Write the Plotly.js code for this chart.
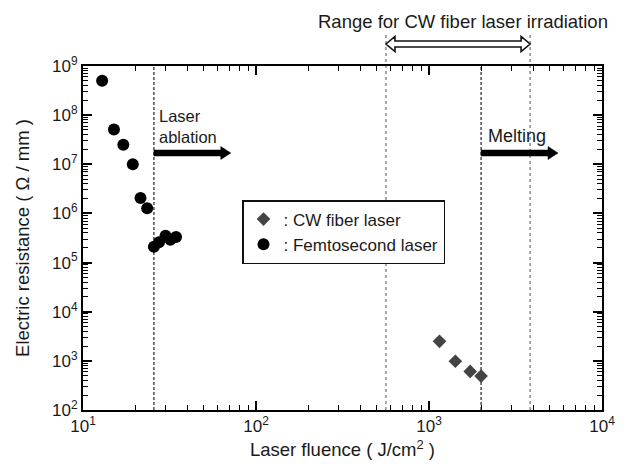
<!DOCTYPE html>
<html><head><meta charset="utf-8">
<script src="https://cdn.plot.ly/plotly-3.0.1.min.js"></script>
<style>html,body{margin:0;padding:0;background:#fff}</style>
</head><body><div id="chart" style="width:628px;height:467px"></div>
<script>
// Data
const femtoFluence = [12.9, 15.1, 17.1, 19.4, 21.5, 23.5, 25.7, 27.5, 30.0, 32.0, 34.5];
const femtoResistance = [5.0e8, 5.1e7, 2.5e7, 1.0e7, 2.05e6, 1.28e6, 2.1e5, 2.6e5, 3.5e5, 2.9e5, 3.3e5];
const cwFluence = [1150, 1420, 1730, 2000];
const cwResistance = [2.5e3, 9.8e2, 6.1e2, 4.9e2];
const cwName = ': CW fiber laser';
const femtoName = ': Femtosecond laser';

const xTickVals = [10, 100, 1000, 10000];
const xTickText = ['10<sup>1</sup>', '10<sup>2</sup>', '10<sup>3</sup>', '10<sup>4</sup>'];
const yTickVals = [1e2, 1e3, 1e4, 1e5, 1e6, 1e7, 1e8, 1e9];
const yTickText = ['10<sup>2</sup>', '10<sup>3</sup>', '10<sup>4</sup>', '10<sup>5</sup>', '10<sup>6</sup>', '10<sup>7</sup>', '10<sup>8</sup>', '10<sup>9</sup>'];

const ablationFluence = 25.7;
const ablationArrowEnd = 71.5;
const meltingFluence = 2000;
const meltingArrowEnd = 5570;
const cwRange = [564, 3840];

const ablationText = 'Laser<br>ablation';
const meltingText = 'Melting';
const rangeText = 'Range for CW fiber laser irradiation';

const W = 628, H = 467;
const M = {l: 83, r: 26, t: 66, b: 57};
const plotW = W - M.l - M.r, plotH = H - M.t - M.b;
const pxPerDecade = plotW / 3;
function shiftLog(v, px) { return v * Math.pow(10, px / pxPerDecade); }
function py(pxFromTop) { return (H - M.b - pxFromTop) / plotH; }

const FONT = 'Liberation Sans, Arial, Helvetica, sans-serif';
const TXT = '#1a1a1a';

function minorVals(lo, hi) {
  const out = [];
  for (let e = lo; e < hi; e++) for (let k = 2; k <= 9; k++) out.push(k * Math.pow(10, e));
  return out;
}

function solidArrow(x0, x1, ypx) {
  const yc = py(ypx), h = 3 / plotH, Hh = 6.5 / plotH;
  const xb = shiftLog(x1, -10);
  return {
    type: 'path', xref: 'x', yref: 'paper', layer: 'above',
    path: `M${x0},${yc - h} L${xb},${yc - h} L${xb},${yc - Hh} L${x1},${yc} L${xb},${yc + Hh} L${xb},${yc + h} L${x0},${yc + h} Z`,
    fillcolor: '#000', line: {color: '#000', width: 0.5}
  };
}

function hollowDoubleArrow(L, R, ypx) {
  const yc = py(ypx), h = 3 / plotH, Hh = 7.5 / plotH;
  const Lb = shiftLog(L, 9), Rb = shiftLog(R, -9);
  return {
    type: 'path', xref: 'x', yref: 'paper', layer: 'above',
    path: `M${L},${yc} L${Lb},${yc + Hh} L${Lb},${yc + h} L${Rb},${yc + h} L${Rb},${yc + Hh} L${R},${yc} L${Rb},${yc - Hh} L${Rb},${yc - h} L${Lb},${yc - h} L${Lb},${yc - Hh} Z`,
    fillcolor: '#fff', line: {color: '#111', width: 1.6}
  };
}

const traces = [
  {x: cwFluence, y: cwResistance, name: cwName, type: 'scatter', mode: 'markers',
   marker: {symbol: 'diamond', size: 10.5, color: '#444'}},
  {x: femtoFluence, y: femtoResistance, name: femtoName, type: 'scatter', mode: 'markers',
   marker: {symbol: 'circle', size: 12, color: '#000'}}
];

const shapes = [
  {type: 'line', xref: 'x', yref: 'paper', x0: ablationFluence, x1: ablationFluence, y0: 0, y1: 1,
   line: {color: '#222', width: 1.2, dash: '3px,2px'}, layer: 'below'},
  {type: 'line', xref: 'x', yref: 'paper', x0: meltingFluence, x1: meltingFluence, y0: 0, y1: 1,
   line: {color: '#222', width: 1.2, dash: '3px,2px'}, layer: 'below'},
  {type: 'line', xref: 'x', yref: 'paper', x0: cwRange[0], x1: cwRange[0], y0: 0, y1: py(32),
   line: {color: '#555', width: 1, dash: 'dot'}, layer: 'below'},
  {type: 'line', xref: 'x', yref: 'paper', x0: cwRange[1], x1: cwRange[1], y0: 0, y1: py(32),
   line: {color: '#555', width: 1, dash: 'dot'}, layer: 'below'},
  solidArrow(ablationFluence, ablationArrowEnd, 153),
  solidArrow(meltingFluence, meltingArrowEnd, 153),
  hollowDoubleArrow(cwRange[0], cwRange[1], 44)
];

const annFont = {family: FONT, size: 18, color: TXT};
const annotations = [
  {xref: 'x', yref: 'paper', x: Math.log10(shiftLog(ablationFluence, 3)), y: py(126), text: ablationText,
   showarrow: false, xanchor: 'left', yanchor: 'middle', align: 'left', font: {family: FONT, size: 16.5, color: TXT}},
  {xref: 'x', yref: 'paper', x: Math.log10(shiftLog(meltingFluence, 5)), y: py(136), text: meltingText,
   showarrow: false, xanchor: 'left', yanchor: 'middle', font: annFont},
  {xref: 'x', yref: 'paper', x: Math.log10(shiftLog(Math.sqrt(cwRange[0] * cwRange[1]), 5)), y: py(21), text: rangeText,
   showarrow: false, xanchor: 'center', yanchor: 'middle', font: {family: FONT, size: 18.5, color: TXT}}
];

const axisCommon = {
  type: 'log', showgrid: false, zeroline: false,
  showline: true, linecolor: '#000', linewidth: 2, mirror: 'allticks',
  ticks: 'inside', ticklen: 9, tickwidth: 2, tickcolor: '#000',
  tickfont: {family: FONT, size: 17, color: TXT},
  tickmode: 'array'
};

const layout = {
  width: W, height: H, margin: M,
  paper_bgcolor: '#fff', plot_bgcolor: '#fff',
  showlegend: true,
  legend: {
    x: (242 - M.l) / plotW, y: py(200), xanchor: 'left', yanchor: 'top',
    bgcolor: '#fff', bordercolor: '#111', borderwidth: 1.5,
    font: {family: FONT, size: 17, color: TXT},
    tracegroupgap: 0, itemwidth: 30
  },
  xaxis: Object.assign({}, axisCommon, {
    range: [1, 4], tickvals: xTickVals, ticktext: xTickText,
    minor: {tickmode: 'array', tickvals: minorVals(1, 4), ticks: 'inside', ticklen: 5, tickwidth: 1, tickcolor: '#000'},
    title: {text: 'Laser fluence ( J/cm<sup>2</sup> )', font: {family: FONT, size: 18.5, color: TXT}, standoff: 8}
  }),
  yaxis: Object.assign({}, axisCommon, {
    range: [2, 9], tickvals: yTickVals, ticktext: yTickText,
    minor: {tickmode: 'array', tickvals: minorVals(2, 9), ticks: 'inside', ticklen: 5, tickwidth: 1, tickcolor: '#000'},
    title: {text: 'Electric resistance ( Ω / mm )', font: {family: FONT, size: 18.5, color: TXT}, standoff: 18}
  }),
  shapes: shapes,
  annotations: annotations
};

Plotly.newPlot('chart', traces, layout, {displayModeBar: false});
</script>
</body></html>
